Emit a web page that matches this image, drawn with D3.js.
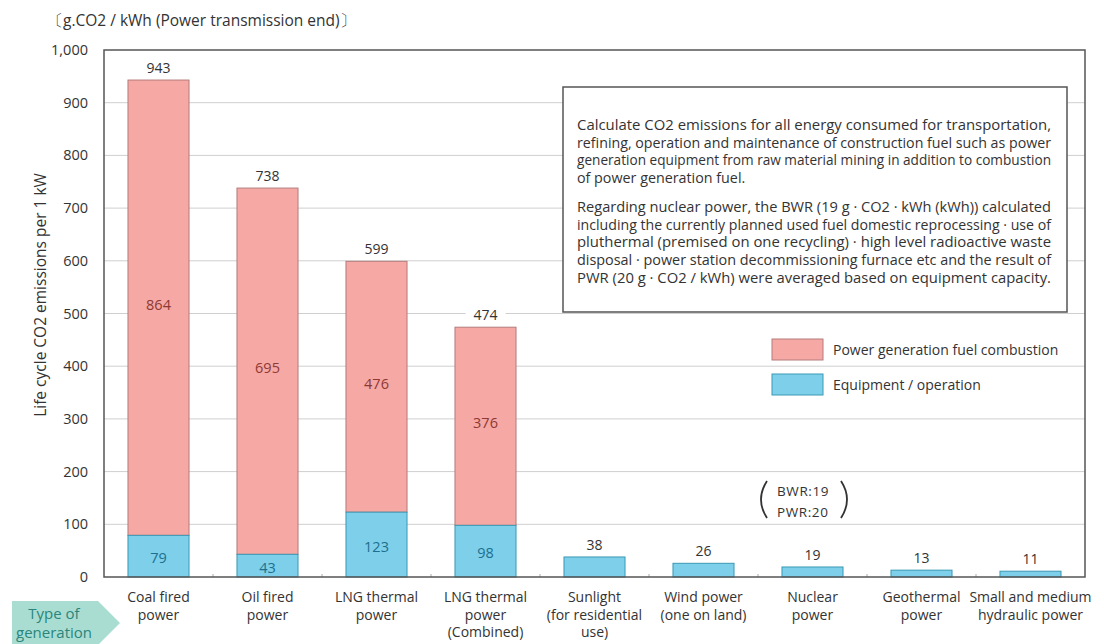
<!DOCTYPE html>
<html><head><meta charset="utf-8">
<script src="https://cdn.jsdelivr.net/npm/d3@7"></script>
<style>body{margin:0;background:#fff}svg{display:block}text{font-family:"Open Sans",sans-serif}</style>
</head><body>
<svg id="c" width="1104" height="644"></svg>
<script>
const categories = [
  ["Coal fired","power"],
  ["Oil fired","power"],
  ["LNG thermal","power"],
  ["LNG thermal","power","(Combined)"],
  ["Sunlight","(for residential","use)"],
  ["Wind power","(one on land)"],
  ["Nuclear","power"],
  ["Geothermal","power"],
  ["Small and medium","hydraulic power"]
];
const equipment = [79, 43, 123, 98, 38, 26, 19, 13, 11];
const combustion = [864, 695, 476, 376, 0, 0, 0, 0, 0];
const totals = [943, 738, 599, 474, 38, 26, 19, 13, 11];
const yTicks = [0,100,200,300,400,500,600,700,800,900,1000];
const seriesNames = ["Power generation fuel combustion", "Equipment / operation"];
const unitLabel = "〔g.CO2 / kWh (Power transmission end)〕";
const yTitle = "Life cycle CO2 emissions per 1 kW";
const noteLines1 = [
  "Calculate CO2 emissions for all energy consumed for transportation,",
  "refining, operation and maintenance of construction fuel such as power",
  "generation equipment from raw material mining in addition to combustion",
  "of power generation fuel."
];
const noteLines2 = [
  "Regarding nuclear power, the BWR (19 g · CO2 · kWh (kWh)) calculated",
  "including the currently planned used fuel domestic reprocessing · use of",
  "pluthermal (premised on one recycling) · high level radioactive waste",
  "disposal · power station decommissioning furnace etc and the result of",
  "PWR (20 g · CO2 / kWh) were averaged based on equipment capacity."
];
const nuclearNote = ["BWR:19", "PWR:20"];
const typeLabel = ["Type of", "generation"];

const svg = d3.select("#c");
const L = 104, R = 1085, T = 50, B = 577;
const x = d3.scaleBand().domain(d3.range(categories.length)).range([L, R]).paddingInner(0.44).paddingOuter(0.22);
const y = d3.scaleLinear().domain([0, 1000]).range([B, T]);

const pinkFill = "#f5a8a4", pinkStroke = "#b47c7c";
const blueFill = "#7ed0ea", blueStroke = "#3a98b4";

// gridlines
svg.append("g").selectAll("line").data(yTicks.slice(1, -1)).join("line")
  .attr("x1", L).attr("x2", R).attr("y1", d => y(d)).attr("y2", d => y(d))
  .attr("stroke", "#cfcfcf").attr("stroke-width", 1);

// y tick labels
svg.append("g").selectAll("text").data(yTicks).join("text")
  .attr("x", 88).attr("y", d => y(d)).attr("dy", "0.35em")
  .attr("text-anchor", "end").attr("font-size", 14.5).attr("fill", "#333")
  .text(d => d3.format(",")(d));

// bars
const idx = d3.range(categories.length);
const bw = x.bandwidth();
svg.append("g").selectAll("rect").data(idx.filter(i => combustion[i] > 0)).join("rect")
  .attr("x", i => x(i)).attr("width", bw)
  .attr("y", i => y(equipment[i] + combustion[i])).attr("height", i => y(equipment[i]) - y(equipment[i] + combustion[i]))
  .attr("fill", pinkFill).attr("stroke", pinkStroke).attr("stroke-width", 1);
svg.append("g").selectAll("rect").data(idx).join("rect")
  .attr("x", i => x(i)).attr("width", bw)
  .attr("y", i => y(equipment[i])).attr("height", i => y(0) - y(equipment[i]))
  .attr("fill", blueFill).attr("stroke", blueStroke).attr("stroke-width", 1);

// inner labels
svg.append("g").selectAll("text").data(idx.filter(i => combustion[i] > 0)).join("text")
  .attr("x", i => x(i) + bw / 2).attr("y", i => y(equipment[i] + combustion[i] / 2) - 3).attr("dy", "0.35em")
  .attr("text-anchor", "middle").attr("font-size", 14.5).attr("fill", "#8f3834")
  .text(i => combustion[i]);
svg.append("g").selectAll("text").data(idx.filter(i => combustion[i] > 0)).join("text")
  .attr("x", i => x(i) + bw / 2).attr("y", i => y(equipment[i] / 2) + 2).attr("dy", "0.35em")
  .attr("text-anchor", "middle").attr("font-size", 14.5).attr("fill", "#1d6f8f")
  .text(i => equipment[i]);

// total labels with white background
const tg = svg.append("g").selectAll("g").data(idx).join("g")
  .attr("transform", i => `translate(${x(i) + bw / 2},${y(totals[i]) - 12})`);
tg.append("rect").attr("x", -20).attr("y", -8).attr("width", 40).attr("height", 16).attr("fill", "#fff");
tg.append("text").attr("dy", "0.35em").attr("text-anchor", "middle").attr("font-size", 14).attr("fill", "#333")
  .text(i => totals[i]);

// band separator ticks
svg.append("g").selectAll("line").data(d3.range(1, categories.length)).join("line")
  .attr("x1", i => L + i * (R - L) / categories.length).attr("x2", i => L + i * (R - L) / categories.length)
  .attr("y1", B).attr("y2", B - 3).attr("stroke", "#aaa");

// frame
svg.append("rect").attr("x", L).attr("y", T).attr("width", R - L).attr("height", B - T)
  .attr("fill", "none").attr("stroke", "#555").attr("stroke-width", 1.5);

// x labels
const xl = svg.append("g").selectAll("text").data(idx).join("text")
  .attr("text-anchor", "middle").attr("font-size", 14).attr("fill", "#333");
xl.each(function(i) {
  const t = d3.select(this);
  categories[i].forEach((ln, k) => {
    t.append("tspan").attr("x", x(i) + bw / 2).attr("y", 602 + k * 17.5).text(ln);
  });
});

// unit label
svg.append("text").attr("x", 47).attr("y", 26).attr("font-size", 15.5).attr("fill", "#333").text(unitLabel);

// y title
svg.append("text").attr("transform", "translate(46,295) rotate(-90)").attr("text-anchor", "middle")
  .attr("font-size", 15.5).attr("fill", "#333").text(yTitle);

// note box
svg.append("rect").attr("x", 563).attr("y", 87).attr("width", 504).attr("height", 225)
  .attr("fill", "#fff").attr("stroke", "#555").attr("stroke-width", 1.5);
const noteW = 474;
function noteBlock(lines, y0) {
  lines.forEach((ln, k) => {
    const t = svg.append("text").attr("x", 577).attr("y", y0 + k * 17.7)
      .attr("font-size", 14.3).attr("fill", "#333").text(ln);
    const w = t.node().getComputedTextLength();
    if (w > noteW * 0.8) t.attr("textLength", noteW).attr("lengthAdjust", "spacingAndGlyphs");
  });
}
noteBlock(noteLines1, 130);
noteBlock(noteLines2, 212);

// legend
const lg = svg.append("g");
[[pinkFill, pinkStroke], [blueFill, blueStroke]].forEach((c, k) => {
  lg.append("rect").attr("x", 772).attr("y", 339 + k * 35).attr("width", 51).attr("height", 21)
    .attr("fill", c[0]).attr("stroke", c[1]);
  lg.append("text").attr("x", 833).attr("y", 350 + k * 35).attr("dy", "0.35em")
    .attr("font-size", 14).attr("fill", "#333").text(seriesNames[k]);
});

// nuclear note
const nn = svg.append("g");
nuclearNote.forEach((t, k) => nn.append("text").attr("x", 777).attr("y", 491 + k * 21).attr("dy", "0.35em")
  .attr("font-size", 13.5).attr("fill", "#333").attr("letter-spacing", 0.6).text(t));
nn.append("path").attr("d", "M767,481 Q755,499.5 767,518").attr("fill", "none").attr("stroke", "#333").attr("stroke-width", 1.8);
nn.append("path").attr("d", "M841,481 Q853,499.5 841,518").attr("fill", "none").attr("stroke", "#333").attr("stroke-width", 1.8);

// type of generation arrow
svg.append("path").attr("d", "M12,601 L98,601 L120,623 L98,645 L12,645 Z").attr("fill", "#a9ddd2");
const tl = svg.append("text").attr("text-anchor", "middle").attr("font-size", 15).attr("fill", "#2a857c");
typeLabel.forEach((t, k) => tl.append("tspan").attr("x", 54).attr("y", 619 + k * 18.5).text(t));
</script>
</body></html>
